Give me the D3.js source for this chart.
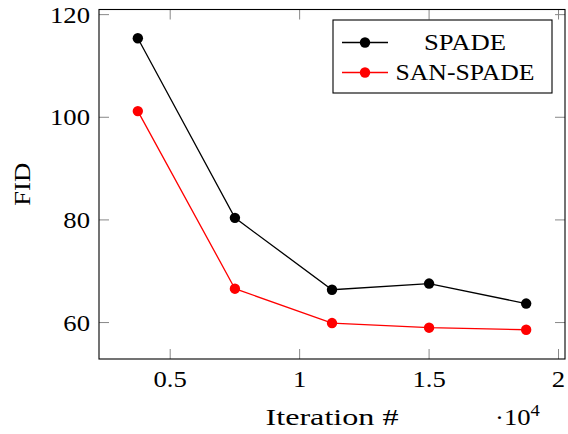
<!DOCTYPE html>
<html>
<head>
<meta charset="utf-8">
<script src="https://cdn.jsdelivr.net/npm/d3@7"></script>
<style>
  body { margin: 0; background: #fff; }
  text { font-family: "Liberation Serif", "DejaVu Serif", serif; fill: #000; }
</style>
</head>
<body>
<div id="chart"></div>
<script>
// Data (iterations in units of 10^4)
var iterations = [0.375, 0.75, 1.125, 1.5, 1.875];
var spadeFID = [115.4, 80.4, 66.4, 67.6, 63.7];
var sanSpadeFID = [101.2, 66.6, 59.9, 59.0, 58.6];
var xTicks = [0.5, 1, 1.5, 2];
var yTicks = [60, 80, 100, 120];

var svgWidth = 568;
var svgHeight = 434;

var margin = { top: 9.5, right: 3, bottom: 75, left: 99 };
var chartWidth = svgWidth - margin.left - margin.right;
var chartHeight = svgHeight - margin.top - margin.bottom;

// Computer Modern is wider than the available serif fonts, so stretch text a bit
var stretch = 1.16;
function fit(sel) {
  sel.attr("textLength", function() { return this.getComputedTextLength() * stretch; })
     .attr("lengthAdjust", "spacingAndGlyphs");
  return sel;
}

var svg = d3.select("#chart")
  .append("svg")
  .attr("width", svgWidth)
  .attr("height", svgHeight);

var chartGroup = svg.append("g")
  .attr("transform", `translate(${margin.left}, ${margin.top})`);

var xScale = d3.scaleLinear().domain([0.225, 2.025]).range([0, chartWidth]);
var yScale = d3.scaleLinear().domain([52.9, 121.0]).range([chartHeight, 0]);

var tickLen = 10;
var tickColor = "#888";

// Tick marks, inward on all four sides
xTicks.forEach(function(t) {
  var x = xScale(t);
  chartGroup.append("line").attr("x1", x).attr("x2", x)
    .attr("y1", chartHeight).attr("y2", chartHeight - tickLen)
    .attr("stroke", tickColor).attr("stroke-width", 1);
  chartGroup.append("line").attr("x1", x).attr("x2", x)
    .attr("y1", 0).attr("y2", tickLen)
    .attr("stroke", tickColor).attr("stroke-width", 1);
  fit(chartGroup.append("text")
    .attr("x", x).attr("y", chartHeight + 28)
    .attr("text-anchor", "middle")
    .style("font-size", "23px")
    .text(d3.format("")(t)));
});

yTicks.forEach(function(t) {
  var y = yScale(t);
  chartGroup.append("line").attr("x1", 0).attr("x2", tickLen)
    .attr("y1", y).attr("y2", y)
    .attr("stroke", tickColor).attr("stroke-width", 1);
  chartGroup.append("line").attr("x1", chartWidth).attr("x2", chartWidth - tickLen)
    .attr("y1", y).attr("y2", y)
    .attr("stroke", tickColor).attr("stroke-width", 1);
  fit(chartGroup.append("text")
    .attr("x", -9).attr("y", y + 8)
    .attr("text-anchor", "end")
    .style("font-size", "23px")
    .text(t));
});

// Axis frame
chartGroup.append("rect")
  .attr("x", 0).attr("y", 0)
  .attr("width", chartWidth).attr("height", chartHeight)
  .attr("fill", "none")
  .attr("stroke", "#000")
  .attr("stroke-width", 1.1);

// Series
var series = [
  { name: "SPADE", values: spadeFID, color: "#000" },
  { name: "SAN-SPADE", values: sanSpadeFID, color: "#f00" }
];

var line = d3.line()
  .x(d => xScale(d[0]))
  .y(d => yScale(d[1]));

series.forEach(function(s) {
  var pts = iterations.map((x, i) => [x, s.values[i]]);
  chartGroup.append("path")
    .datum(pts)
    .attr("d", line)
    .attr("fill", "none")
    .attr("stroke", s.color)
    .attr("stroke-width", 1.3);
  chartGroup.selectAll(null)
    .data(pts)
    .enter()
    .append("circle")
    .attr("cx", d => xScale(d[0]))
    .attr("cy", d => yScale(d[1]))
    .attr("r", 5.2)
    .attr("fill", s.color);
});

// Legend
var legend = svg.append("g").attr("transform", "translate(333, 20)");
legend.append("rect")
  .attr("width", 219).attr("height", 73)
  .attr("fill", "#fff")
  .attr("stroke", "#000")
  .attr("stroke-width", 1.1);

series.forEach(function(s, i) {
  var y = 22.5 + i * 30;
  legend.append("line")
    .attr("x1", 9).attr("x2", 55)
    .attr("y1", y).attr("y2", y)
    .attr("stroke", s.color).attr("stroke-width", 1.3);
  legend.append("circle")
    .attr("cx", 32).attr("cy", y).attr("r", 5.2)
    .attr("fill", s.color);
  legend.append("text")
    .attr("x", 132).attr("y", y + 7.5)
    .attr("text-anchor", "middle")
    .attr("textLength", i === 0 ? 82 : 139)
    .attr("lengthAdjust", "spacingAndGlyphs")
    .style("font-size", "23px")
    .text(s.name);
});

// Axis labels
svg.append("text")
  .attr("x", margin.left + chartWidth / 2)
  .attr("y", 425)
  .attr("text-anchor", "middle")
  .attr("textLength", 133)
  .attr("lengthAdjust", "spacingAndGlyphs")
  .style("font-size", "23px")
  .text("Iteration #");

var sci = svg.append("text")
  .attr("x", 495)
  .attr("y", 425)
  .style("font-size", "23px");
sci.append("tspan").text("\u00b710");
sci.append("tspan").attr("dy", -9).style("font-size", "16px").text("4");
fit(sci);

svg.append("text")
  .attr("transform", `translate(30, ${margin.top + chartHeight / 2}) rotate(-90)`)
  .attr("text-anchor", "middle")
  .attr("textLength", 43)
  .attr("lengthAdjust", "spacingAndGlyphs")
  .style("font-size", "23px")
  .text("FID");
</script>
</body>
</html>
